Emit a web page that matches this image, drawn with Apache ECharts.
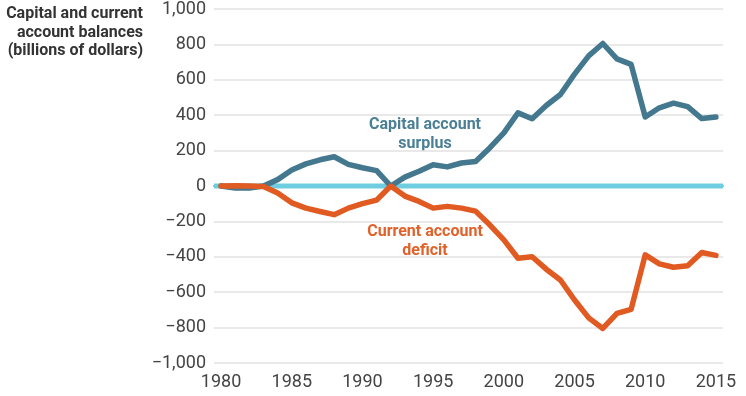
<!DOCTYPE html>
<html>
<head>
<meta charset="utf-8">
<script src="https://cdn.jsdelivr.net/npm/echarts@6/dist/echarts.min.js"></script>
<style>
  html, body { margin: 0; padding: 0; background: #fff; }
  #main { width: 746px; height: 396px; }
</style>
</head>
<body>
<div id="main"></div>
<script>
// years on the x axis, 1980-2015
var years = []
for (var y = 1980; y <= 2015; y++) years.push(String(y))

// billions of dollars
var capitalSurplus = [0, -12, -12, 0, 36, 90, 125, 148, 165, 122, 103, 87, 0, 50, 83, 120, 108, 130, 138, 215,
  300, 413, 380, 455, 517, 632, 735, 805, 718, 687, 390, 442, 468, 448, 381, 390]
var currentDeficit = [0, 2, 0, -3, -40, -95, -125, -144, -162, -125, -100, -80, 0, -57, -87, -125, -115, -125, -142, -219,
  -304, -408, -400, -470, -531, -644, -745, -805, -720, -697, -389, -440, -459, -451, -376, -392]

// zero reference line, drawn edge to edge on a hidden 0..1 axis
var zeroLine = [[0, 0], [1, 0]]

var FONT = 'Roboto, "Liberation Sans", sans-serif'
var TEAL = '#43788e'
var ORANGE = '#e05a22'
var CYAN = '#6fcde0'

function fmtY(v) {
  var s = Math.abs(v).toString().replace(/\B(?=(\d{3})+(?!\d))/g, ',')
  return v < 0 ? '\u2212' + s : s
}

var chart = echarts.init(document.getElementById('main'))
chart.setOption({
  animation: false,
  grid: { left: 214, right: 23, top: 9, bottom: 33 },
  xAxis: [
    {
      type: 'category',
      data: years,
      boundaryGap: true,
      axisLine: { lineStyle: { color: '#555', width: 1.5 } },
      axisTick: { interval: 0, length: 7, lineStyle: { color: '#555', width: 1.5 } },
      axisLabel: { interval: 4, color: '#444', fontSize: 18, fontFamily: FONT, margin: 10 }
    },
    { type: 'value', min: 0, max: 1, show: false }
  ],
  yAxis: {
    type: 'value',
    min: -1000,
    max: 1000,
    interval: 200,
    axisLine: { show: false },
    axisTick: { show: false },
    splitLine: { lineStyle: { color: '#e2e2e2', width: 1.5 } },
    axisLabel: { color: '#444', fontSize: 18, fontFamily: FONT, margin: 8, formatter: fmtY }
  },
  graphic: [
    {
      type: 'text', x: 143, y: 5,
      style: {
        text: 'Capital and current\naccount balances\n(billions of dollars)',
        align: 'right', fill: '#333', font: 'bold 16px ' + FONT, lineHeight: 18.5
      }
    },
    {
      type: 'text', x: 425, y: 115,
      style: { text: 'Capital account\nsurplus', align: 'center', fill: '#4a7f95', font: 'bold 16px ' + FONT, lineHeight: 19 }
    },
    {
      type: 'text', x: 425, y: 222,
      style: { text: 'Current account\ndeficit', align: 'center', fill: '#e0622a', font: 'bold 16px ' + FONT, lineHeight: 19 }
    }
  ],
  series: [
    {
      type: 'line',
      xAxisIndex: 1,
      data: zeroLine,
      z: 1,
      silent: true,
      showSymbol: false,
      lineStyle: { color: CYAN, width: 5 }
    },
    {
      name: 'Capital account surplus',
      type: 'line',
      data: capitalSurplus,
      z: 3,
      showSymbol: false,
      lineStyle: { color: TEAL, width: 5.5, join: 'round', cap: 'round' }
    },
    {
      name: 'Current account deficit',
      type: 'line',
      data: currentDeficit,
      z: 3,
      showSymbol: false,
      lineStyle: { color: ORANGE, width: 5.5, join: 'round', cap: 'round' }
    }
  ]
})
</script>
</body>
</html>
